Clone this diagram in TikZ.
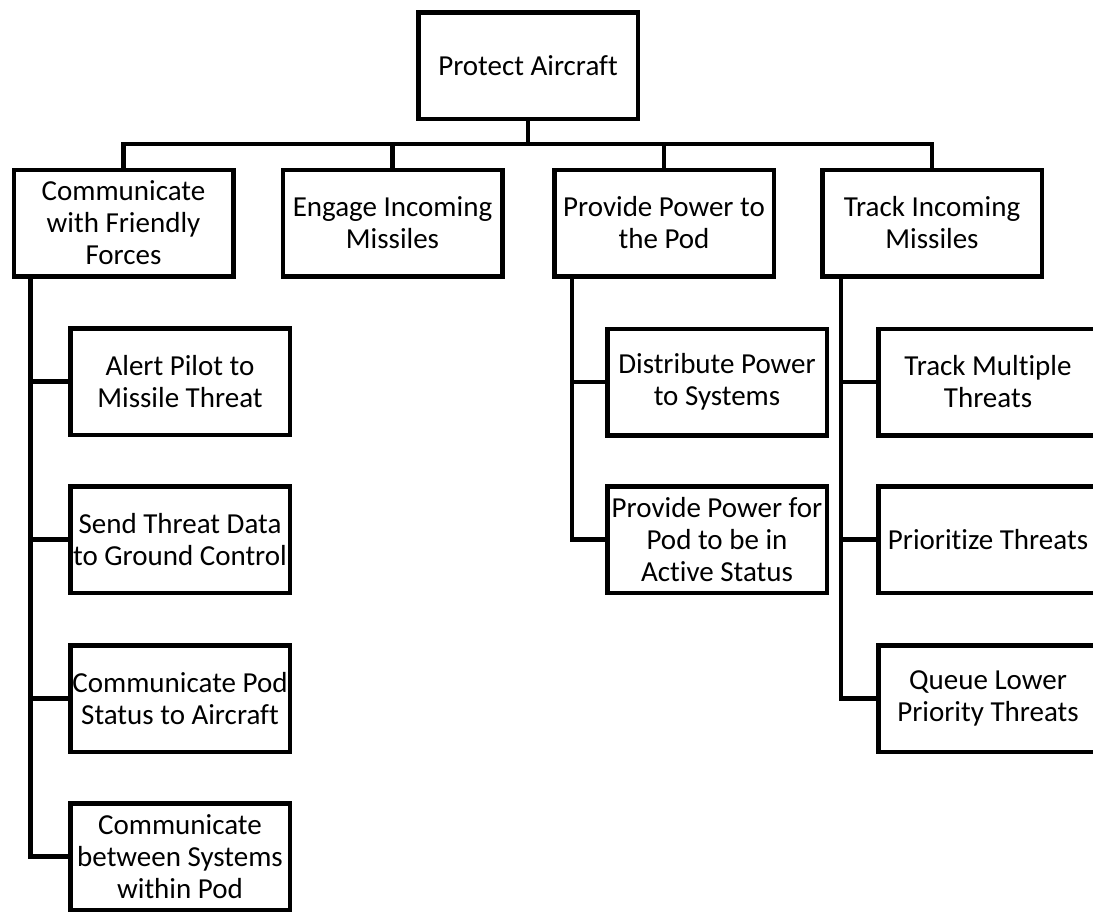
\documentclass[tikz,border=0pt]{standalone}
\usepackage{fontspec}
\setmainfont{Carlito}[Ligatures={NoCommon}]
\begin{document}
\begin{tikzpicture}[x=1pt,y=-1pt,
  box/.style={draw, line width=4.5pt, minimum width=219.5pt, minimum height=106.5pt,
    inner sep=0pt, align=center, font=\fontsize{29}{32}\selectfont},
  conn/.style={line width=4.5pt}]
\useasboundingbox (0,0) rectangle (1093,911);

% root
\node[box] (top) at (528,65.5) {Protect Aircraft};

% first level
\node[box] (n1) at (123.5,223) {Communicate\\with Friendly\\Forces};
\node[box] (n2) at (392.5,223) {Engage Incoming\\Missiles};
\node[box] (n3) at (664,223)   {Provide Power to\\the Pod};
\node[box] (n4) at (932,223)   {Track Incoming\\Missiles};

% children of "Communicate with Friendly Forces"
\node[box] (c1) at (180,381.5) {Alert Pilot to\\Missile Threat};
\node[box] (c2) at (180,539.5) {Send Threat Data\\to Ground Control};
\node[box] (c3) at (180,698.5) {Communicate Pod\\Status to Aircraft};
\node[box] (c4) at (180,856.5) {Communicate\\between Systems\\within Pod};

% children of "Provide Power to the Pod"
\node[box] (p1) at (717,382)   {Distribute Power\\to Systems};
\node[box] (p2) at (717,539.5) {Provide Power for\\Pod to be in\\Active Status};

% children of "Track Incoming Missiles"
\node[box] (q1) at (988,382)   {Track Multiple\\Threats};
\node[box] (q2) at (988,539.5) {Prioritize Threats};
\node[box] (q3) at (988,698.5) {Queue Lower\\Priority Threats};

% bus from the root to the first level
\coordinate (bus) at (0,144);
\draw[conn] (top.south) -- (top.south |- bus);
\draw[conn] (n1.north) -- (n1.north |- bus) -- (n4.north |- bus) -- (n4.north);
\draw[conn] (n2.north) -- (n2.north |- bus);
\draw[conn] (n3.north) -- (n3.north |- bus);

% trunks down the left side of the branches
\coordinate (t1) at ([xshift=19pt]n1.south west);
\coordinate (t3) at ([xshift=20pt]n3.south west);
\coordinate (t4) at ([xshift=21pt]n4.south west);

\draw[conn] (t1) |- (c4.west);
\draw[conn] (t1 |- c1.west) -- (c1.west);
\draw[conn] (t1 |- c2.west) -- (c2.west);
\draw[conn] (t1 |- c3.west) -- (c3.west);

\draw[conn] (t3) |- (p2.west);
\draw[conn] (t3 |- p1.west) -- (p1.west);

\draw[conn] (t4) |- (q3.west);
\draw[conn] (t4 |- q1.west) -- (q1.west);
\draw[conn] (t4 |- q2.west) -- (q2.west);
\end{tikzpicture}
\end{document}
